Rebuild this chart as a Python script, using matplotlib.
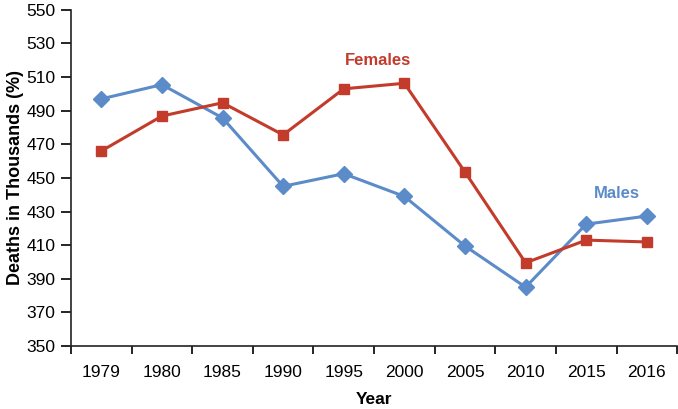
import numpy as np
import matplotlib
matplotlib.use("Agg")
import matplotlib.pyplot as plt

plt.rcParams['font.family'] = ['Liberation Sans', 'DejaVu Sans']

years = ['1979', '1980', '1985', '1990', '1995', '2000', '2005', '2010', '2015', '2016']
males = [497, 505.5, 485.7, 445, 452.5, 439, 409.5, 385, 422.5, 427.3]
females = [466, 486.8, 494.7, 475.6, 503, 506.3, 453.5, 399.5, 413, 411.9]

blue = '#5b8bc9'
red = '#c33b2b'

fig = plt.figure(figsize=(6.78, 4.09), dpi=100)
ax = fig.add_axes([0.1047, 0.154, 0.894, 0.822])

x = np.arange(len(years))
ax.plot(x, males, color=blue, lw=2.2, marker='D', ms=8, mec=blue, zorder=3)
ax.plot(x, females, color=red, lw=2.2, marker='s', ms=7.5, mec=red, zorder=3)

ax.text(4.56, 520, 'Females', color=red, fontsize=12, fontweight='bold', ha='center', va='center')
ax.text(8.5, 441, 'Males', color=blue, fontsize=12, fontweight='bold', ha='center', va='center')

ax.set_xlim(-0.5, len(years) - 0.5)
ax.set_ylim(350, 550)
ax.set_yticks(np.arange(350, 551, 20))
ax.set_xticks(np.arange(-0.5, len(years), 1))
ax.set_xticklabels([])
ax.set_xticks(x, minor=True)
ax.set_xticklabels(years, minor=True)
ax.tick_params(axis='x', which='minor', length=0, pad=14, labelsize=12.5)
ax.tick_params(axis='x', which='major', length=6, width=1.2, direction='out')
ax.tick_params(axis='y', length=7, width=1.2, direction='out', labelsize=12.5, pad=4)

for s in ['top', 'right']:
    ax.spines[s].set_visible(False)
for s in ['left', 'bottom']:
    ax.spines[s].set_linewidth(1.2)
    ax.spines[s].set_color('#222222')

ax.set_xlabel('Year', fontsize=12.5, fontweight='bold', labelpad=8)
ax.set_ylabel('Deaths in Thousands (%)', fontsize=13, fontweight='bold', labelpad=2)

fig.savefig('out.png', dpi=100)
